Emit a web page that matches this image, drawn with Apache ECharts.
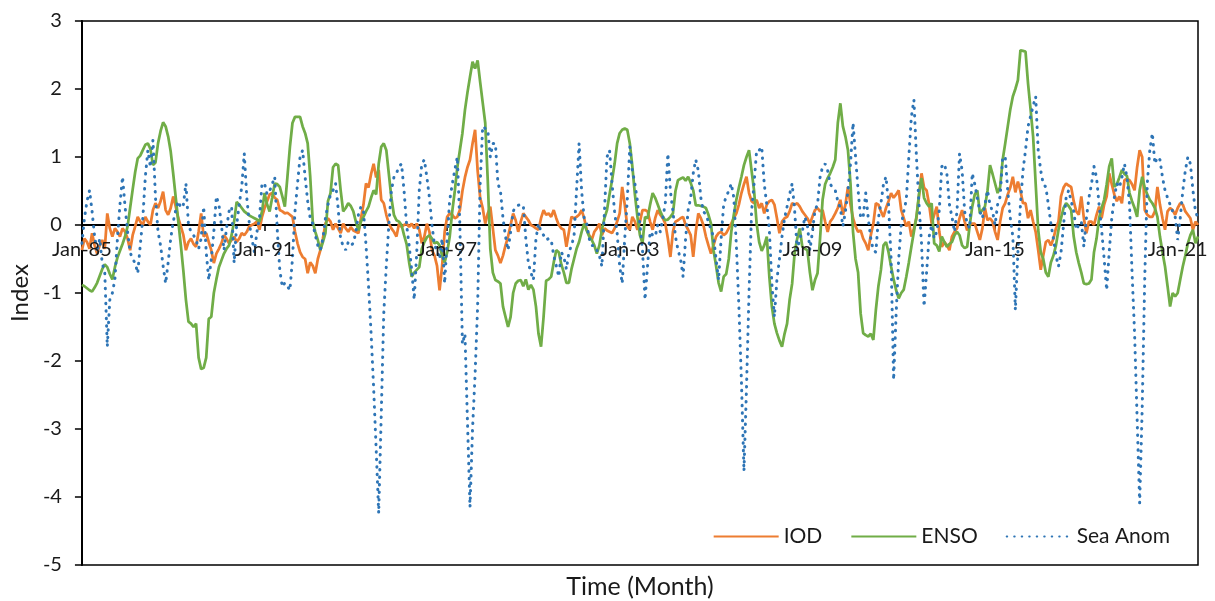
<!DOCTYPE html>
<html>
<head>
<meta charset="utf-8">
<script src="https://cdn.jsdelivr.net/npm/echarts@6/dist/echarts.min.js"></script>
<style>
html, body { margin: 0; padding: 0; background: #fff; }
#main { width: 1215px; height: 601px; }
</style>
</head>
<body>
<div id="main"></div>
<script>
// monthly series, Jan-1985 .. Sep-2021 (one row per year)
var startYear = 1985;
var monthNames = ['Jan', 'Feb', 'Mar', 'Apr', 'May', 'Jun', 'Jul', 'Aug', 'Sep', 'Oct', 'Nov', 'Dec'];
var labelEvery = 72; // a label every 6 years

var iod = [
  -0.37,-0.2,-0.25,-0.35,-0.12,-0.3,-0.42,-0.3,-0.22,-0.35,0.17,-0.05,
  -0.17,-0.05,-0.1,-0.17,-0.05,-0.1,-0.2,-0.37,-0.15,-0.02,0.12,0.05,
  0.0,0.12,0.05,0.0,0.22,0.32,0.25,0.35,0.49,0.22,0.15,0.25,
  0.42,0.27,0.1,-0.02,-0.15,-0.37,-0.25,-0.2,-0.28,-0.32,-0.1,0.17,
  -0.17,-0.12,-0.25,-0.37,-0.56,-0.42,-0.35,-0.27,-0.15,-0.2,-0.27,-0.22,
  -0.17,-0.25,-0.2,-0.12,-0.15,-0.1,-0.02,0.0,0.02,0.05,-0.07,0.12,
  0.25,0.35,0.45,0.47,0.4,0.37,0.22,0.2,0.17,0.18,0.15,0.12,
  -0.1,-0.27,-0.4,-0.47,-0.5,-0.71,-0.55,-0.6,-0.71,-0.5,-0.37,-0.2,
  0.02,0.1,0.05,-0.07,0.02,-0.05,-0.12,0.02,-0.05,-0.1,-0.03,-0.08,
  -0.1,-0.12,0.1,0.3,0.61,0.55,0.75,0.9,0.7,0.81,0.37,0.32,
  0.15,0.02,-0.05,-0.1,-0.17,0.02,-0.03,0.0,0.02,-0.03,0.02,-0.05,
  0.02,-0.07,-0.27,-0.17,0.02,-0.1,-0.37,-0.45,-0.6,-0.96,-0.6,-0.1,
  0.12,0.17,0.15,0.1,0.12,0.22,0.5,0.7,0.85,0.96,1.2,1.4,
  0.8,0.4,0.25,0.02,0.17,0.27,-0.05,-0.37,-0.45,-0.56,-0.45,-0.3,
  -0.17,0.0,0.17,0.07,-0.1,0.05,0.17,0.12,0.07,0.0,-0.02,-0.05,
  -0.07,0.1,0.22,0.15,0.17,0.12,0.22,0.1,0.0,-0.05,-0.07,-0.32,
  -0.1,0.12,0.1,0.12,0.15,0.22,0.1,-0.07,-0.15,-0.22,-0.1,-0.05,
  0.02,-0.15,-0.05,-0.08,-0.1,-0.12,-0.05,0.05,0.17,0.56,0.3,-0.02,
  -0.07,0.12,0.05,-0.07,0.05,0.22,0.22,0.2,0.05,-0.07,0.1,0.22,
  0.15,0.1,0.02,-0.2,-0.47,-0.1,0.05,0.07,0.1,0.12,0.0,-0.07,
  -0.15,-0.47,-0.1,0.17,0.1,0.0,-0.17,-0.3,-0.42,-0.3,-0.17,-0.12,
  -0.1,-0.15,-0.12,-0.05,0.02,0.1,0.17,0.3,0.47,0.6,0.71,0.47,
  0.35,0.32,0.37,0.25,0.32,0.17,0.3,0.35,0.37,0.3,0.1,-0.12,
  0.05,0.1,0.12,0.2,0.32,0.3,0.32,0.27,0.2,0.15,0.1,0.02,
  0.12,0.22,0.25,0.2,0.22,0.05,-0.1,0.05,0.1,0.17,0.25,0.37,
  0.15,0.3,0.56,0.3,0.1,-0.02,-0.1,-0.08,-0.2,-0.27,-0.37,-0.15,
  0.02,0.32,0.3,0.2,0.12,0.25,0.35,0.47,0.4,0.45,0.51,0.22,
  0.1,-0.02,0.05,-0.17,-0.05,0.1,0.42,0.76,0.55,0.51,0.3,0.02,
  0.15,0.27,-0.1,-0.32,-0.25,-0.3,-0.37,-0.17,-0.1,-0.05,0.1,0.22,
  0.05,-0.08,0.0,0.02,0.02,-0.1,-0.22,-0.05,0.25,0.07,0.1,0.05,
  -0.1,-0.22,0.05,0.25,0.32,0.45,0.55,0.71,0.48,0.64,0.5,0.32,
  0.32,0.1,0.22,0.05,-0.1,-0.37,-0.66,-0.45,-0.25,-0.22,-0.3,-0.2,
  -0.05,0.05,0.42,0.55,0.61,0.58,0.56,0.35,0.2,0.15,0.42,0.1,
  -0.12,0.05,0.05,0.0,0.15,0.27,0.1,0.3,0.42,0.76,0.6,0.45,
  0.35,0.42,0.32,0.66,0.68,0.66,0.6,0.51,0.85,1.1,1.0,0.22,
  0.15,0.12,0.12,0.2,0.56,0.3,0.1,-0.07,0.2,0.25,0.22,0.15,
  0.25,0.32,0.3,0.2,0.15,0.1,-0.07,0.05,0.0
];

var enso = [
  -0.88,-0.9,-0.93,-0.96,-0.98,-0.92,-0.85,-0.75,-0.65,-0.58,-0.62,-0.72,
  -0.8,-0.62,-0.48,-0.38,-0.28,-0.17,-0.02,0.25,0.52,0.78,0.98,1.02,
  1.1,1.18,1.2,1.12,0.88,0.92,1.2,1.38,1.51,1.45,1.3,1.08,
  0.75,0.4,0.05,-0.3,-0.68,-1.1,-1.42,-1.45,-1.5,-1.45,-1.95,-2.12,
  -2.1,-1.95,-1.38,-1.35,-1.0,-0.8,-0.62,-0.52,-0.42,-0.35,-0.3,-0.15,
  0.05,0.34,0.3,0.25,0.2,0.17,0.14,0.12,0.1,0.08,0.05,0.2,
  0.47,0.3,0.2,0.4,0.61,0.6,0.56,0.42,0.27,0.7,1.15,1.5,
  1.59,1.59,1.59,1.45,1.35,1.2,0.71,0.05,-0.1,-0.22,-0.37,-0.25,
  -0.12,0.35,0.47,0.85,0.9,0.88,0.51,0.2,0.25,0.32,0.28,0.2,
  0.05,-0.08,0.05,0.12,0.2,0.27,0.4,0.51,0.45,0.9,1.15,1.2,
  1.1,0.75,0.4,0.15,0.07,0.05,0.0,-0.15,-0.28,-0.55,-0.76,-0.7,
  -0.66,-0.62,-0.35,-0.25,-0.18,-0.15,-0.2,-0.27,-0.25,-0.3,-0.45,-0.55,
  -0.4,-0.17,0.2,0.5,0.85,1.1,1.35,1.69,1.95,2.18,2.4,2.3,
  2.42,2.1,1.8,1.5,0.65,-0.35,-0.7,-0.81,-0.83,-0.86,-1.2,-1.35,
  -1.5,-1.35,-1.0,-0.86,-0.82,-0.81,-0.9,-0.8,-0.95,-0.88,-0.95,-1.2,
  -1.6,-1.79,-1.35,-0.82,-0.8,-0.76,-0.55,-0.37,-0.4,-0.58,-0.7,-0.85,
  -0.85,-0.65,-0.5,-0.35,-0.25,-0.1,0.02,-0.08,-0.17,-0.22,-0.3,-0.42,
  -0.3,-0.07,0.1,0.22,0.45,0.66,0.9,1.2,1.35,1.4,1.42,1.4,
  1.2,0.86,0.45,0.12,-0.15,-0.27,0.12,0.1,0.3,0.47,0.4,0.3,
  0.2,0.12,0.07,0.08,0.12,0.17,0.5,0.66,0.68,0.7,0.65,0.71,
  0.62,0.51,0.29,0.29,0.28,0.27,0.25,0.15,0.02,-0.37,-0.6,-0.85,
  -0.98,-0.76,-0.72,-0.5,-0.1,0.15,0.37,0.55,0.71,0.88,1.0,1.1,
  0.8,0.5,0.02,-0.25,-0.38,-0.3,-0.17,-0.76,-1.2,-1.45,-1.59,-1.7,
  -1.79,-1.6,-1.45,-1.1,-0.86,-0.4,-0.2,-0.05,-0.32,-0.35,-0.37,-0.7,
  -0.96,-0.81,-0.71,-0.2,0.37,0.6,0.69,0.76,0.85,0.96,1.5,1.79,
  1.45,1.3,1.1,0.61,-0.1,-0.5,-0.7,-1.3,-1.59,-1.62,-1.64,-1.6,
  -1.69,-1.25,-0.9,-0.66,-0.3,-0.25,-0.4,-0.61,-0.8,-0.96,-1.08,-1.0,
  -0.95,-0.76,-0.55,-0.32,-0.1,0.12,0.45,0.69,0.4,0.32,0.27,0.32,
  -0.27,-0.3,-0.39,-0.17,-0.25,-0.32,-0.28,-0.25,-0.15,-0.1,-0.15,-0.3,
  -0.34,-0.32,0.0,0.27,0.45,0.51,0.17,0.22,0.27,0.5,0.88,0.75,
  0.61,0.47,0.56,0.96,1.2,1.45,1.7,1.89,2.0,2.13,2.57,2.56,
  2.55,2.08,1.7,1.3,0.61,-0.07,-0.4,-0.5,-0.7,-0.76,-0.55,-0.45,
  -0.3,-0.07,0.1,0.25,0.32,0.28,0.22,-0.17,-0.4,-0.56,-0.7,-0.86,
  -0.87,-0.86,-0.8,-0.4,-0.2,0.1,0.25,0.37,0.6,0.86,0.98,0.56,
  0.6,0.7,0.81,0.75,0.72,0.47,0.35,0.25,0.12,0.51,0.71,0.55,
  0.45,0.37,0.32,0.25,0.12,-0.17,-0.4,-0.61,-0.9,-1.2,-1.0,-1.05,
  -1.0,-0.8,-0.61,-0.45,-0.27,-0.15,-0.07,-0.27,-0.17
];

var seaAnom = [
  -0.27,0.1,0.35,0.51,0.2,-0.17,-0.4,-0.2,-0.56,-0.7,-1.79,-1.1,
  -1.0,-0.8,-0.2,0.3,0.71,0.27,-0.1,-0.4,-0.5,-0.56,-0.71,-0.3,
  0.1,0.71,1.1,0.85,1.25,0.4,-0.1,-0.3,-0.6,-0.86,-0.55,-0.2,
  0.05,0.22,0.35,0.25,0.3,0.61,0.0,-0.1,-0.15,-0.22,-0.35,-0.2,
  0.27,-0.4,-0.81,-0.5,-0.1,0.42,0.3,0.0,-0.37,-0.05,0.2,0.27,
  -0.56,0.0,0.3,0.56,1.05,0.4,0.02,-0.2,-0.4,-0.1,0.1,0.61,
  0.61,0.45,0.5,0.6,0.71,-0.07,-0.66,-0.91,-0.85,-0.9,-0.96,-0.5,
  0.2,0.61,1.0,1.1,0.7,0.35,0.1,0.02,-0.15,-0.3,-0.37,-0.2,
  0.1,0.3,0.45,0.51,0.61,0.25,-0.22,-0.3,-0.37,-0.25,-0.3,-0.27,
  -0.1,0.15,0.27,0.2,-0.3,-0.9,-1.6,-2.4,-3.3,-4.24,-2.8,-1.3,
  -0.6,0.0,0.51,0.7,0.76,0.86,0.9,0.5,0.0,-0.3,-0.66,-1.1,
  -0.4,0.51,0.9,0.96,0.7,0.4,0.0,-0.3,-0.37,-0.5,-0.2,-0.86,
  -0.2,0.37,0.6,0.81,1.0,0.0,-1.75,-1.6,-2.9,-4.15,-3.0,-2.2,
  -1.2,0.6,1.45,1.42,1.4,1.0,1.2,1.2,0.61,0.5,0.1,-0.17,
  -0.37,-0.1,0.2,0.27,0.29,0.3,0.29,-0.2,-0.56,-0.7,-0.81,-0.2,
  0.02,-0.1,-0.15,-0.22,-0.2,-0.22,-0.45,-0.6,-0.76,-0.4,-0.47,-0.65,
  -0.4,-0.3,-0.17,0.51,1.2,0.5,0.1,0.02,-0.2,-0.3,-0.3,-0.37,
  -0.45,-0.61,0.2,1.0,1.1,0.6,0.2,-0.12,-0.6,-0.86,-0.2,0.37,
  1.15,0.8,0.61,0.35,0.0,-0.37,-1.1,-0.6,-0.1,-0.15,-0.17,0.0,
  -0.1,0.1,0.32,1.05,0.5,0.2,-0.17,-0.37,-0.5,-0.76,-0.2,0.22,
  0.4,0.76,0.96,0.8,0.4,0.2,0.15,0.05,-0.07,-0.17,-0.5,-0.81,
  -0.2,0.3,0.42,0.5,0.61,0.4,-0.3,-1.2,-2.3,-3.62,-2.4,-1.0,
  0.2,0.61,1.1,1.1,1.15,0.6,0.3,-0.07,-0.86,-1.35,-0.8,-0.5,
  -0.17,0.1,0.27,0.45,0.61,0.2,-0.37,-0.2,-0.1,0.12,0.0,-0.37,
  -0.1,0.22,0.3,0.7,0.86,0.9,0.8,0.6,0.55,0.51,0.35,0.25,
  -0.02,0.2,0.5,0.9,1.5,1.0,0.51,0.1,0.12,0.47,0.1,-0.2,
  -0.37,-0.4,0.1,0.32,0.6,0.71,0.3,-0.5,-2.28,-1.3,-0.5,0.0,
  0.2,0.37,1.0,1.59,1.84,1.0,0.3,-0.27,-1.2,-0.7,-0.17,0.0,
  -0.2,-0.1,0.22,0.86,0.9,0.75,0.3,0.12,-0.1,0.2,1.05,0.8,
  0.2,0.02,-0.05,0.76,0.6,0.4,0.2,0.1,0.3,0.51,0.3,0.2,
  0.0,0.3,0.42,1.0,1.0,0.5,0.1,-0.17,-1.25,-0.4,0.3,0.8,
  1.1,1.45,1.6,1.75,1.89,1.1,0.8,0.6,0.56,0.3,0.02,-0.2,
  -0.45,-0.61,-0.4,0.0,0.4,0.51,0.35,0.2,-0.07,0.0,0.05,-0.32,
  0.1,0.4,0.6,0.86,0.7,0.3,-0.07,-0.5,-0.96,-0.4,0.1,0.4,
  0.61,0.55,0.7,0.9,0.7,0.3,-0.7,-1.6,-2.85,-4.09,-2.7,-0.8,
  0.61,1.1,1.35,0.9,1.0,0.96,0.7,0.51,0.4,0.3,0.2,0.12,
  -0.22,0.1,0.5,0.8,1.0,0.9,0.51,0.2,0.1
];

// month labels like "Jan-85"
var months = [];
for (var k = 0; k < enso.length; k++) {
    var yy = (startYear + Math.floor(k / 12)) % 100;
    months.push(monthNames[k % 12] + '-' + (yy < 10 ? '0' + yy : '' + yy));
}

var myChart = echarts.init(document.getElementById('main'));
var txt = '#1a1a1a';
var gridTop = 21, gridBottom = 36, yMin = -5, yMax = 3;
// move the category axis up onto the zero line (labels too)
var plotH = 601 - gridTop - gridBottom;
var zeroOffset = -plotH * (0 - yMin) / (yMax - yMin);

var option = {
    animation: false,
    textStyle: { fontFamily: 'Lato' },
    grid: {
        left: 81, right: 17, top: gridTop, bottom: gridBottom,
        show: true, borderColor: '#000', borderWidth: 1.5
    },
    legend: {
        right: 40, top: 521,
        itemWidth: 65, itemHeight: 14, itemGap: 28,
        itemStyle: { opacity: 0 },
        textStyle: { fontSize: 21, color: txt },
        data: ['IOD', 'ENSO', 'Sea Anom']
    },
    xAxis: [
        {   // zero line + ticks, under the series
            type: 'category',
            data: months,
            boundaryGap: false,
            position: 'bottom',
            offset: zeroOffset,
            axisLine: { onZero: false, lineStyle: { color: '#000', width: 2 } },
            axisTick: { interval: labelEvery - 1, length: 6, lineStyle: { color: '#000', width: 1.5 } },
            axisLabel: { show: false },
            splitLine: { show: false }
        },
        {   // tick labels, drawn over the series
            type: 'category',
            data: months,
            boundaryGap: false,
            position: 'bottom',
            offset: zeroOffset,
            z: 10,
            axisLine: { show: false, onZero: false },
            axisTick: { show: false },
            axisLabel: { interval: labelEvery - 1, margin: 15, fontSize: 20, color: txt },
            splitLine: { show: false }
        }
    ],
    yAxis: {
        type: 'value',
        min: yMin, max: yMax, interval: 1,
        name: 'Index',
        nameLocation: 'middle',
        nameGap: 47,
        nameTextStyle: { fontSize: 24, color: txt },
        axisLine: { show: true, lineStyle: { color: '#000', width: 2 } },
        axisTick: { show: true, length: 7, lineStyle: { color: '#000', width: 1.5 } },
        axisLabel: { margin: 20, fontSize: 20, color: txt },
        splitLine: { show: false }
    },
    graphic: [{
        type: 'text',
        x: 640, y: 587,
        style: {
            text: 'Time (Month)',
            font: '25px Lato',
            fill: txt,
            align: 'center',
            verticalAlign: 'middle'
        }
    }],
    series: [
        {
            name: 'IOD', type: 'line', data: iod, symbol: 'none',
            lineStyle: { color: '#ED7D31', width: 2.75 },
            itemStyle: { color: '#ED7D31' }
        },
        {
            name: 'ENSO', type: 'line', data: enso, symbol: 'none',
            lineStyle: { color: '#70AD47', width: 2.75 },
            itemStyle: { color: '#70AD47' }
        },
        {
            name: 'Sea Anom', type: 'line', data: seaAnom, symbol: 'none',
            lineStyle: { color: '#2E75B6', width: 3, type: [0.5, 7], cap: 'round' },
            itemStyle: { color: '#2E75B6' }
        }
    ]
};

myChart.setOption(option);
</script>
</body>
</html>
